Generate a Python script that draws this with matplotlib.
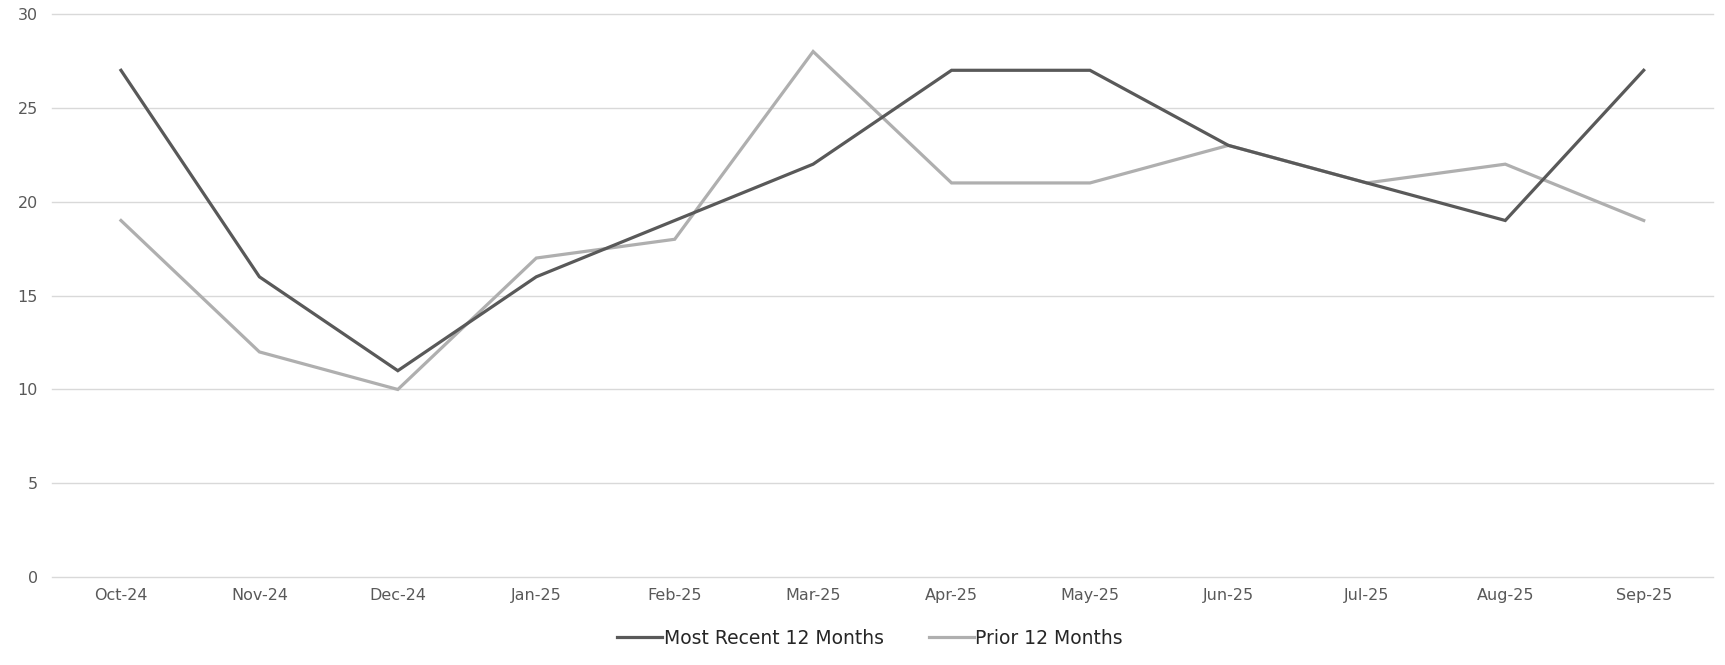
import matplotlib

matplotlib.use("Agg")
import matplotlib.pyplot as plt

months = ["Oct-24", "Nov-24", "Dec-24", "Jan-25", "Feb-25", "Mar-25",
          "Apr-25", "May-25", "Jun-25", "Jul-25", "Aug-25", "Sep-25"]
recent = [27, 16, 11, 16, 19, 22, 27, 27, 23, 21, 19, 27]
prior = [19, 12, 10, 17, 18, 28, 21, 21, 23, 21, 22, 19]
y_ticks = [0, 5, 10, 15, 20, 25, 30]

plt.rcParams["font.family"] = ["DejaVu Sans"]

fig = plt.figure(figsize=(17.25, 6.65), dpi=100)
ax = fig.add_axes([0.030, 0.132, 0.963, 0.847])

x = list(range(len(months)))
ax.plot(x, recent, color="#595959", lw=2.3, label="Most Recent 12 Months",
        zorder=3, solid_joinstyle="miter")
ax.plot(x, prior, color="#afafaf", lw=2.3, label="Prior 12 Months",
        zorder=2, solid_joinstyle="miter")

ax.set_xlim(-0.5, len(months) - 0.5)
ax.set_ylim(0, 30)
ax.set_yticks(y_ticks)
ax.set_xticks(x)
ax.set_xticklabels(months)
ax.grid(axis="y", color="#d9d9d9", lw=1)
for gl in ax.get_ygridlines():
    gl.set_clip_on(False)
ax.set_axisbelow(True)
for s in ax.spines.values():
    s.set_visible(False)
ax.tick_params(length=0, labelsize=11.5, colors="#595959")
ax.tick_params(axis="x", pad=8)
ax.tick_params(axis="y", pad=10)

ax.legend(loc="upper center", bbox_to_anchor=(0.4925, -0.062), ncol=2,
          frameon=False, fontsize=13.5, handlelength=2.4, handletextpad=0.1,
          columnspacing=2.4, labelcolor="#262626")

fig.savefig("out.png", dpi=100)
